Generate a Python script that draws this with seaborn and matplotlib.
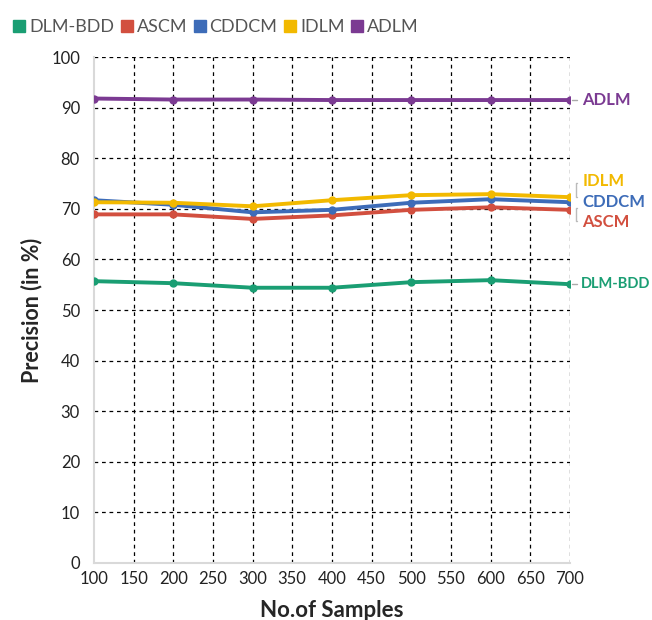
import pandas as pd
import seaborn as sns
import matplotlib.pyplot as plt
from matplotlib.lines import Line2D

# values
samples = [100, 200, 300, 400, 500, 600, 700]
dlm_bdd = [55.7, 55.3, 54.4, 54.4, 55.5, 55.9, 55.1]
ascm = [68.9, 68.9, 68.0, 68.7, 69.8, 70.3, 69.8]
cddcm = [71.7, 70.8, 69.3, 69.8, 71.2, 71.9, 71.3]
idlm = [71.3, 71.2, 70.5, 71.7, 72.7, 72.9, 72.3]
adlm = [91.8, 91.6, 91.6, 91.5, 91.5, 91.5, 91.5]

methods = ['DLM-BDD', 'ASCM', 'CDDCM', 'IDLM', 'ADLM']
colors = ['#1a9e73', '#d24f3f', '#3d6cb8', '#f2b900', '#7b3a92']

df = pd.DataFrame({'samples': samples * 5,
                   'precision': dlm_bdd + ascm + cddcm + idlm + adlm,
                   'method': [m for m in methods for _ in samples]})

sns.set_style('white')
plt.rcParams['font.family'] = ['Lato', 'DejaVu Sans']

fig = plt.figure(figsize=(6.52, 6.2), dpi=100)
ax = fig.add_axes([0.144, 0.092, 0.730, 0.816])

sns.lineplot(data=df, x='samples', y='precision', hue='method', hue_order=methods,
             palette=colors, marker='o', markersize=6, markeredgewidth=0,
             linewidth=2.8, legend=False, ax=ax, zorder=3)

ax.set_xlim(100, 700)
ax.set_ylim(0, 100)
ax.set_xticks(range(100, 701, 50))
ax.set_yticks(range(0, 101, 10))
for x in range(150, 701, 50):
    ax.axvline(x, color='black', linestyle=(0, (3, 3)), linewidth=0.9, zorder=1)
for y in range(10, 101, 10):
    ax.axhline(y, color='black', linestyle=(0, (3, 3)), linewidth=0.9, zorder=1)

for side in ['top', 'right']:
    ax.spines[side].set_visible(False)
for side in ['left', 'bottom']:
    ax.spines[side].set_color('#d9d9d9')
    ax.spines[side].set_linewidth(1.5)
ax.tick_params(axis='both', length=0, labelsize=12, colors='#222222')
ax.tick_params(axis='x', pad=6)
ax.tick_params(axis='y', pad=10)

ax.set_xlabel('No.of Samples', fontsize=16, fontweight='bold', labelpad=9)
ax.set_ylabel('Precision (in %)', fontsize=15.5, fontweight='bold', labelpad=6)

# end-of-line labels
ends = {'ADLM': 91.5, 'IDLM': 75.5, 'CDDCM': 71.3, 'ASCM': 67.4, 'DLM-BDD': 55.1}
for m, c in zip(methods, colors):
    ax.annotate(m, xy=(1.0, ends[m]), xycoords=('axes fraction', 'data'),
                xytext=(8 if m == 'DLM-BDD' else 9, 0), textcoords='offset points',
                va='center', fontsize=10.5 if m == 'DLM-BDD' else 12,
                fontweight='bold', color=c, annotation_clip=False)
for m in ['ADLM', 'DLM-BDD']:
    ax.plot([1.005, 1.015], [ends[m], ends[m]], color='#aaaaaa', lw=1,
            transform=ax.get_yaxis_transform(), clip_on=False)
ax.plot([1.016, 1.012, 1.012, 1.016], [75.2, 75.2, 72.4, 72.4], color='#bbbbbb', lw=1,
        transform=ax.get_yaxis_transform(), clip_on=False)
ax.plot([1.016, 1.012, 1.012, 1.016], [70.2, 70.2, 67.6, 67.6], color='#bbbbbb', lw=1,
        transform=ax.get_yaxis_transform(), clip_on=False)

handles = [Line2D([], [], marker='s', linestyle='none', markersize=9, color=c) for c in colors]
fig.legend(handles, methods, loc='upper left', bbox_to_anchor=(0.0, 0.99), ncol=5,
           frameon=False, fontsize=13, handlelength=0.7, handletextpad=0.2,
           columnspacing=0.35, labelcolor='#555555', borderaxespad=0.3)

fig.savefig('out.png', dpi=100)
